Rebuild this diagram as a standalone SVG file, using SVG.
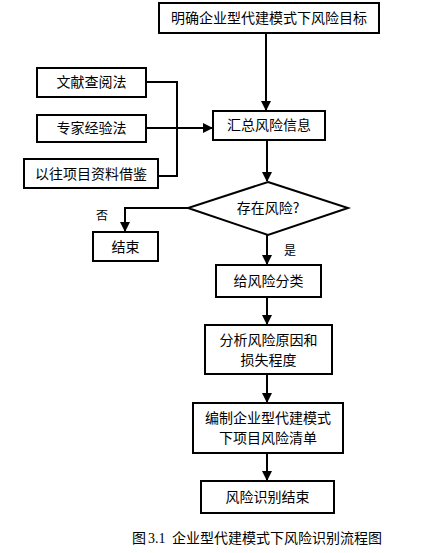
<svg xmlns="http://www.w3.org/2000/svg" width="426" height="553" viewBox="0 0 426 553">
<style>
.box{fill:#fff;stroke:#000;stroke-width:2}
.t{font-family:"Noto Sans CJK SC","Liberation Sans",sans-serif;font-size:14px;fill:#000;text-anchor:middle}
.c{fill:none;stroke:#000;stroke-width:2}
.cap{font-family:"Liberation Serif","Noto Sans CJK SC",serif;font-size:14px;fill:#000}
</style>
<defs>
<marker id="a" markerWidth="10" markerHeight="10" refX="9" refY="5" orient="auto" markerUnits="userSpaceOnUse">
<path d="M0,0 L10,5 L0,10 Z" fill="#000"/>
</marker>
</defs>
<rect width="426" height="553" fill="#fff"/>
<g id="connectors">
<path class="c" d="M266,33 V110" marker-end="url(#a)"/>
<path class="c" d="M146,82 H177 V176 H158"/>
<path class="c" d="M146,128 H212" marker-end="url(#a)"/>
<path class="c" d="M267,140 V181" marker-end="url(#a)"/>
<path class="c" d="M188,208 H125 V231" marker-end="url(#a)"/>
<path class="c" d="M267,235 V264" marker-end="url(#a)"/>
<path class="c" d="M267,297 V324" marker-end="url(#a)"/>
<path class="c" d="M267,374 V402" marker-end="url(#a)"/>
<path class="c" d="M267,453 V480" marker-end="url(#a)"/>
</g>
<g id="n1"><rect class="box" x="159" y="3" width="220" height="30"/><text class="t" x="269" y="23">明确企业型代建模式下风险目标</text></g>
<g id="n2"><rect class="box" x="37" y="68" width="109" height="29"/><text class="t" x="91.5" y="87">文献查阅法</text></g>
<g id="n3"><rect class="box" x="37" y="115" width="109" height="27"/><text class="t" x="91.5" y="133">专家经验法</text></g>
<g id="n4"><rect class="box" x="24" y="159" width="134" height="29"/><text class="t" x="91" y="179">以往项目资料借鉴</text></g>
<g id="n5"><rect class="box" x="213" y="111" width="112" height="29"/><text class="t" x="269" y="130">汇总风险信息</text></g>
<g id="n6"><polygon class="box" points="268,182 348,208 268,235 188,208"/><text class="t" x="268" y="213">存在风险?</text></g>
<g id="n7"><rect class="box" x="93" y="232" width="65" height="29"/><text class="t" x="125.5" y="252">结束</text></g>
<text class="t" x="102" y="220" style="font-size:12px">否</text>
<text class="t" x="290" y="255" style="font-size:12px">是</text>
<g id="n8"><rect class="box" x="216" y="265" width="105" height="32"/><text class="t" x="268.5" y="286">给风险分类</text></g>
<g id="n9"><rect class="box" x="205" y="325" width="127" height="49"/><text class="t" x="268.5" y="345">分析风险原因和</text><text class="t" x="268.5" y="365">损失程度</text></g>
<g id="n10"><rect class="box" x="193" y="403" width="150" height="50"/><text class="t" x="268" y="423">编制企业型代建模式</text><text class="t" x="268" y="443">下项目风险清单</text></g>
<g id="n11"><rect class="box" x="201" y="481" width="133" height="32"/><text class="t" x="267.5" y="502">风险识别结束</text></g>
<text class="cap" x="132" y="543"><tspan>图</tspan><tspan x="148">3.1</tspan><tspan x="172">企业型代建模式下风险识别流程图</tspan></text>
</svg>
